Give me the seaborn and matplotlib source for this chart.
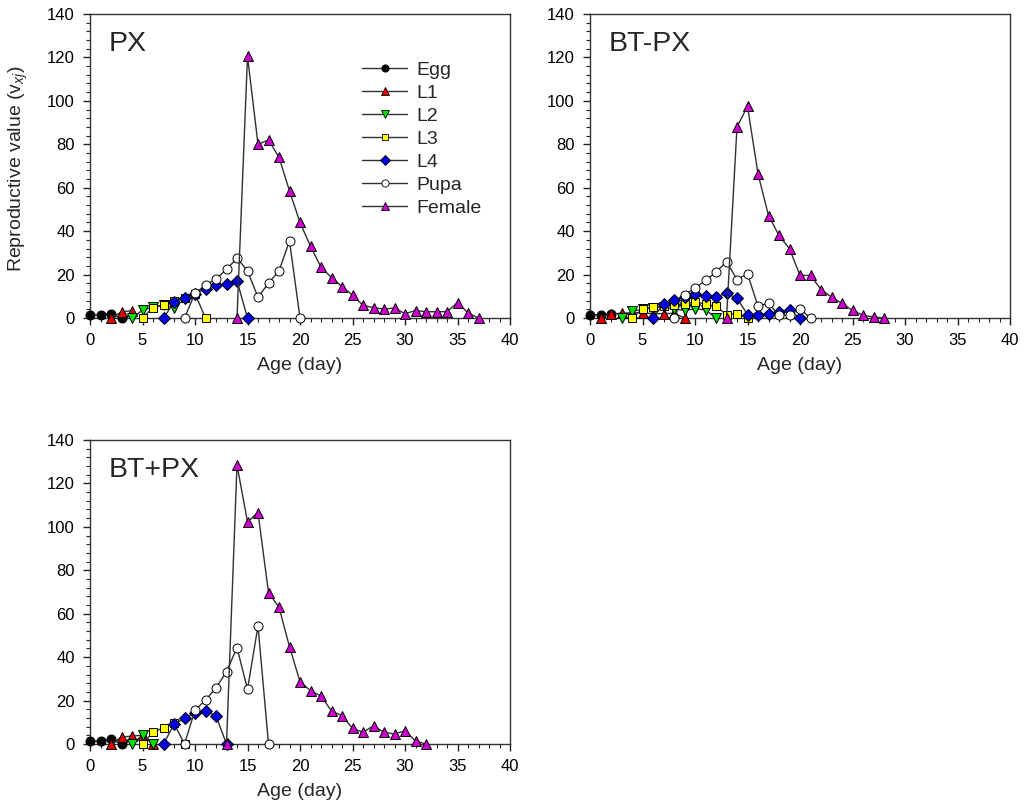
import matplotlib
matplotlib.use("Agg")
import matplotlib.pyplot as plt
from matplotlib.lines import Line2D
from matplotlib.ticker import MultipleLocator
import seaborn as sns

sns.set_style("white")
plt.rcParams['font.family'] = ['Liberation Sans', 'DejaVu Sans']
plt.rcParams['mathtext.fontset'] = 'custom'
plt.rcParams['mathtext.rm'] = 'Liberation Sans'
plt.rcParams['mathtext.it'] = 'Liberation Sans:italic'

# ---------------- data ----------------
panels = ["PX", "BT-PX", "BT+PX"]
stages = ["Egg", "L1", "L2", "L3", "L4", "Pupa", "Female"]

# PX
px_egg_age = [0, 1, 2, 3]
px_egg = [1.3, 1.5, 1.9, 0]
px_l1_age = [2, 3, 4]
px_l1 = [0, 2.8, 3.4]
px_l2_age = [4, 5, 6, 7, 8]
px_l2 = [0, 3.6, 5.0, 6.0, 4.6]
px_l3_age = [5, 6, 7, 8, 9, 10, 11]
px_l3 = [0, 4.8, 5.8, 7.6, 9.3, 11.2, 0]
px_l4_age = [7, 8, 9, 10, 11, 12, 13, 14, 15]
px_l4 = [0, 7.2, 9.1, 11.2, 13.4, 15.1, 15.8, 17.2, 0]
px_pupa_age = [9, 10, 11, 12, 13, 14, 15, 16, 17, 18, 19, 20]
px_pupa = [0, 11.4, 15.1, 18.0, 22.4, 27.6, 21.7, 9.5, 16.1, 21.7, 35.5, 0]
px_female_age = list(range(14, 38))
px_female = [0, 120.5, 80, 82, 74, 58.5, 44, 33, 23.4, 18.6, 14.4, 10.6, 5.8, 4.8,
             4.1, 4.6, 2.0, 3.4, 2.9, 2.9, 2.9, 7.1, 2.4, 0]

# BT-PX
btm_egg_age = [0, 1, 2]
btm_egg = [1.2, 1.6, 1.8]
btm_l1_age = [1, 2, 3, 4, 5, 6, 7, 8, 9]
btm_l1 = [0, 1.9, 2.2, 2.4, 2.4, 2.0, 2.0, 2.2, 0]
btm_l2_age = [3, 4, 5, 6, 7, 8, 9, 10, 11, 12]
btm_l2 = [0, 3.1, 4.0, 4.8, 5.0, 4.2, 3.5, 4.2, 3.8, 0]
btm_l3_age = [4, 5, 6, 7, 8, 9, 10, 11, 12, 13, 14, 15]
btm_l3 = [0, 4.2, 5.0, 5.6, 6.2, 6.5, 7.3, 6.5, 5.3, 1.6, 1.9, 0]
btm_l4_age = [6, 7, 8, 9, 10, 11, 12, 13, 14, 15, 16, 17, 18, 19, 20]
btm_l4 = [0, 6.5, 8.1, 9.8, 11.2, 10.1, 9.6, 11.4, 9.1, 1.6, 1.6, 1.9, 2.7, 3.5, 0]
btm_pupa_age = [8, 9, 10, 11, 12, 13, 14, 15, 16, 17, 18, 19, 20, 21]
btm_pupa = [0, 10.7, 13.7, 17.3, 21.1, 26.0, 17.7, 20.4, 5.4, 6.8, 1.2, 1.4, 4.2, 0]
btm_female_age = list(range(13, 29))
btm_female = [0, 88, 97.5, 66.4, 47.2, 38, 31.9, 19.6, 19.6, 13.1, 9.6, 6.7, 3.5, 1.2, 0.5, 0]

# BT+PX
btp_egg_age = [0, 1, 2, 3]
btp_egg = [1.2, 1.4, 2.2, 0]
btp_l1_age = [2, 3, 4, 5, 6]
btp_l1 = [0, 3.1, 3.7, 4.0, 0]
btp_l2_age = [4, 5, 6]
btp_l2 = [0, 4.1, 0]
btp_l3_age = [5, 6, 7, 8, 9]
btp_l3 = [0, 5.4, 7.5, 9.5, 0]
btp_l4_age = [7, 8, 9, 10, 11, 12, 13]
btp_l4 = [0, 9.0, 11.8, 14.4, 15.2, 12.9, 0]
btp_pupa_age = [9, 10, 11, 12, 13, 14, 15, 16, 17]
btp_pupa = [0, 15.6, 20.2, 25.9, 33.3, 44.4, 25.2, 54.4, 0]
btp_female_age = list(range(13, 33))
btp_female = [0, 128.5, 102.3, 106.6, 69.7, 63, 44.8, 28.7, 24.6, 22.1, 15.2, 13.1,
              7.2, 5.4, 8.4, 5.4, 4.6, 6.1, 1.4, 0]

data = {
    "PX": [(px_egg_age, px_egg), (px_l1_age, px_l1), (px_l2_age, px_l2), (px_l3_age, px_l3),
           (px_l4_age, px_l4), (px_pupa_age, px_pupa), (px_female_age, px_female)],
    "BT-PX": [(btm_egg_age, btm_egg), (btm_l1_age, btm_l1), (btm_l2_age, btm_l2), (btm_l3_age, btm_l3),
              (btm_l4_age, btm_l4), (btm_pupa_age, btm_pupa), (btm_female_age, btm_female)],
    "BT+PX": [(btp_egg_age, btp_egg), (btp_l1_age, btp_l1), (btp_l2_age, btp_l2), (btp_l3_age, btp_l3),
              (btp_l4_age, btp_l4), (btp_pupa_age, btp_pupa), (btp_female_age, btp_female)],
}

# ---------------- styles ----------------
face = {"Egg": "#000000", "L1": "#E00000", "L2": "#00E000", "L3": "#FFFF00",
        "L4": "#0000E0", "Pupa": "#FFFFFF", "Female": "#CC00CC"}
mark = {"Egg": "o", "L1": "^", "L2": "v", "L3": "s", "L4": "D", "Pupa": "o", "Female": "^"}
msize = {"Egg": 6.5, "L1": 7, "L2": 7, "L3": 6.2, "L4": 6, "Pupa": 6.5, "Female": 7.3}
line_col = "#303030"

fig = plt.figure(figsize=(10.36, 8.07), dpi=100)
W, H = 1036, 807
pos = {"PX": (90, 318), "BT-PX": (590, 318), "BT+PX": (90, 744)}
aw, ah = 420, 304

for p in panels:
    x0, yb = pos[p]
    ax = fig.add_axes([x0 / W, 1 - yb / H, aw / W, ah / H])
    for st, (ages, vals) in zip(stages, data[p]):
        sns.lineplot(x=ages, y=vals, ax=ax, color=line_col, lw=1.0, marker=mark[st],
                     markersize=msize[st], markerfacecolor=face[st], markeredgecolor="black",
                     markeredgewidth=0.7, zorder=3, clip_on=False, sort=False)
    ax.set_xlim(0, 40)
    ax.set_ylim(0, 140)
    ax.xaxis.set_major_locator(MultipleLocator(5))
    ax.xaxis.set_minor_locator(MultipleLocator(1))
    ax.yaxis.set_major_locator(MultipleLocator(20))
    ax.yaxis.set_minor_locator(MultipleLocator(4))
    ax.tick_params(which="major", direction="out", length=5, width=1, labelsize=12,
                   bottom=True, left=True, top=False, right=False, pad=6,
                   colors="#222222", labelcolor="black")
    ax.tick_params(which="minor", direction="out", length=3, width=0.8,
                   bottom=True, left=True, top=False, right=False, colors="#222222")
    for s in ax.spines.values():
        s.set_color("#333333")
        s.set_linewidth(1.0)
    ax.set_xlabel("Age (day)", fontsize=14, labelpad=6)
    ax.set_ylabel("")
    ax.text(0.045, 0.945, p, transform=ax.transAxes, fontsize=20.5, ha="left", va="top")
    if p == "PX":
        ax.set_ylabel(r"Reproductive value ($\mathregular{v}_{xj}$)", fontsize=14)
        ax.yaxis.set_label_coords(-0.143, 0.49)
        handles = [Line2D([], [], color=line_col, lw=1.0, marker=mark[st],
                          markersize=msize[st] * 0.8, markerfacecolor=face[st],
                          markeredgecolor="black", markeredgewidth=0.6) for st in stages]
        ax.legend(handles, stages, loc="upper left", bbox_to_anchor=(0.63, 0.87),
                  frameon=False, fontsize=14, handlelength=2.3, labelspacing=0.28,
                  handletextpad=0.5, borderaxespad=0)

fig.savefig("out.png", dpi=100)
